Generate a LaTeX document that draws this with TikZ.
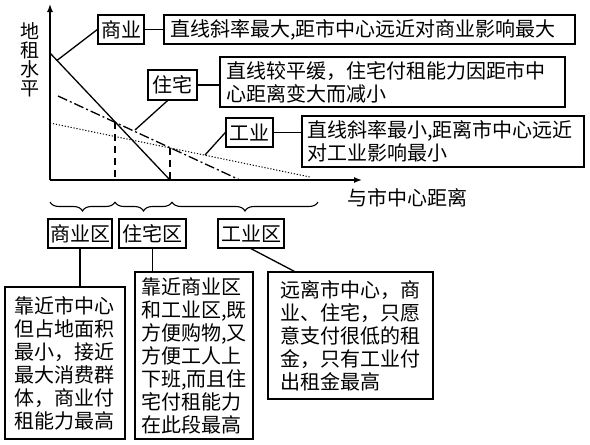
\documentclass[tikz,border=0pt]{standalone}
\usepackage{fontspec}
\setmainfont{Noto Sans CJK SC}
\usetikzlibrary{calc,arrows.meta,decorations.pathreplacing}

\begin{document}
\begin{tikzpicture}[x=1pt, y=-1pt, line width=1.3pt,
  tagbox/.style={draw, line width=1.3pt, inner sep=0pt, font=\fontsize{20}{23}\selectfont},
  notebox/.style={tagbox, align=left, inner xsep=6pt},
  descbox/.style={tagbox, align=left},
  zonebrace/.style={decorate, decoration={brace, mirror, amplitude=9pt}, line width=1.1pt}]

  \useasboundingbox (0,0) rectangle (590,445);

  % Axes
  \coordinate (origin) at (50,180);
  \coordinate (yTip) at (50,4);
  \coordinate (xTip) at (362,180);
  \draw[-{Latex[length=8pt,width=6pt]}] (origin) -- (yTip);
  \draw[-{Latex[length=8pt,width=6pt]}] (origin) -- (xTip);

  % Axis labels
  \node[font=\fontsize{19}{19}\selectfont, align=center] (yLabel) at (30,60) {地\\租\\水\\平};
  \node[font=\fontsize{20}{23}\selectfont] (xLabel) at (407,198) {与市中心距离};

  % Rent curves
  \coordinate (shangStart) at (50,53);
  \coordinate (shangEnd) at (170,180);
  \coordinate (zhuStart) at (58,96);
  \coordinate (zhuEnd) at (240,180);
  \coordinate (gongStart) at (50,123);
  \coordinate (gongEnd) at (310,177);
  \draw (shangStart) -- (shangEnd);
  \draw[dash pattern=on 10pt off 3pt on 2pt off 3pt] (zhuStart) -- (zhuEnd);
  \draw[line width=1pt, dash pattern=on 1.2pt off 1.8pt] (gongStart) -- (gongEnd);

  % Drop lines at the crossings
  \coordinate (crossA) at (115,122);
  \coordinate (crossB) at (170,148);
  \draw[dash pattern=on 7pt off 5pt] (crossA) -- (crossA |- origin);
  \draw[dash pattern=on 7pt off 5pt] (crossB) -- (crossB |- origin);

  % Callouts
  \node[tagbox, minimum width=46pt, minimum height=29pt] (shangTag) at (121,29.5) {商业};
  \node[notebox, minimum height=29pt, text width=399pt] (shangNote) at (369.5,29.5)
    {直线斜率最大,距市中心远近对商业影响最大};
  \node[tagbox, minimum width=49pt, minimum height=30pt] (zhuTag) at (172.5,85) {住宅};
  \node[notebox, minimum height=50pt, text width=333pt] (zhuNote) at (392.5,82)
    {直线较平缓，住宅付租能力因距市中\\心距离变大而减小};
  \node[tagbox, minimum width=47pt, minimum height=29pt] (gongTag) at (249.5,132.5) {工业};
  \node[notebox, inner xsep=5pt, minimum height=51pt, text width=272pt] (gongNote) at (443,141.5)
    {直线斜率最小,距离市中心远近\\对工业影响最小};

  % Leaders
  \coordinate (shangPt) at (57,60.4);
  \coordinate (zhuPt) at (135,130);
  \coordinate (gongPt) at (205,155);
  \draw (shangPt) -- (shangTag.west);
  \draw (shangTag) -- (shangNote);
  \draw (zhuPt) -- ([xshift=-5pt]zhuTag.south);
  \draw (zhuTag.east) -- (zhuTag.east -| zhuNote.west);
  \draw (gongPt) -- (gongTag.west);
  \draw (gongTag.east) -- (gongTag.east -| gongNote.west);

  % Zone braces
  \coordinate (zoneA) at (50,202);
  \coordinate (zoneB) at (115,202);
  \coordinate (zoneC) at (172,202);
  \coordinate (zoneD) at (318,202);
  \draw[zonebrace] (zoneA) -- (zoneB);
  \draw[zonebrace] (zoneB) -- (zoneC);
  \draw[zonebrace] (zoneC) -- (zoneD);

  % Zone boxes
  \node[tagbox, minimum width=64pt, minimum height=29pt] (zoneShang) at (80,233.5) {商业区};
  \node[tagbox, minimum width=67pt, minimum height=29pt] (zoneZhu) at (152.5,233.5) {住宅区};
  \node[tagbox, minimum width=66pt, minimum height=29pt] (zoneGong) at (251,233.5) {工业区};

  % Descriptions
  \node[descbox, minimum width=120pt, minimum height=152pt] (descShang) at (65,363)
    {靠近市中心\\但占地面积\\最小，接近\\最大消费群\\体，商业付\\租能力最高};
  \node[descbox, minimum width=118pt, minimum height=167pt] (descZhu) at (194,355.5)
    {靠近商业区\\和工业区,既\\方便购物,又\\方便工人上\\下班,而且住\\宅付租能力\\在此段最高};
  \node[descbox, minimum width=165pt, minimum height=127pt] (descGong) at (350.5,335.5)
    {远离市中心，商\\业、住宅，只愿\\意支付很低的租\\金，只有工业付\\出租金最高};

  \draw (zoneShang.south) -- (zoneShang.south |- descShang.north);
  \draw (zoneZhu.south) -- (zoneZhu.south |- descZhu.north);
  \draw (zoneGong.south) -- ($(descGong.north west)+(27,0)$);

\end{tikzpicture}
\end{document}
